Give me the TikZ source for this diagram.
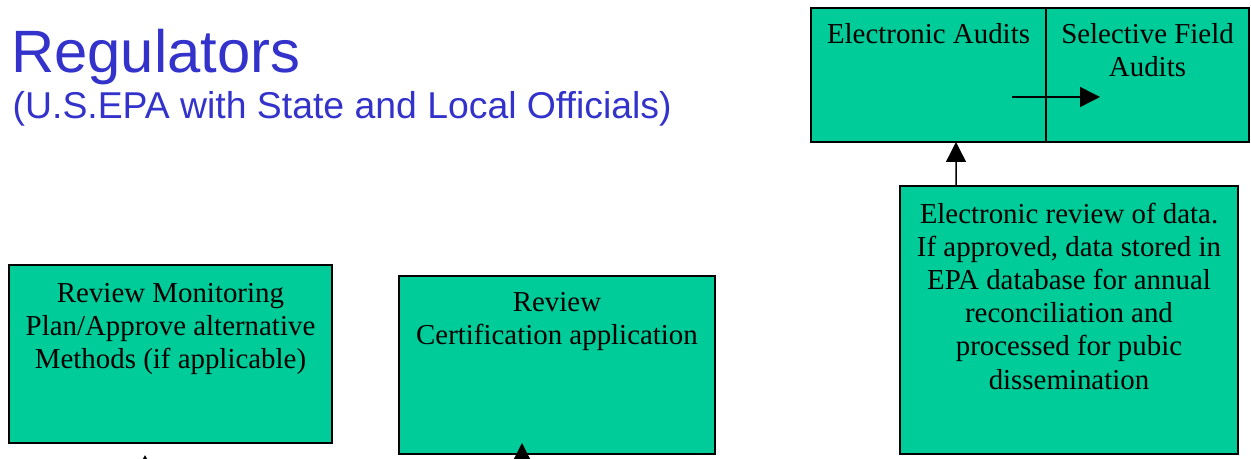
\documentclass[tikz,border=0pt]{standalone}
\usepackage{fontspec}
\setmainfont{Liberation Serif}
\newfontfamily\arialf{Liberation Sans}
\usetikzlibrary{arrows.meta}
\definecolor{boxgreen}{RGB}{0,204,153}
\definecolor{titleblue}{RGB}{51,51,204}
\begin{document}
\begin{tikzpicture}[x=1bp,y=-1bp,
  box/.style={draw=black,line width=1.5bp,fill=boxgreen,inner sep=0pt,outer sep=0pt,anchor=north west},
  boxtext/.style={anchor=north,inner sep=0pt,align=center,font=\fontsize{29}{33.3}\selectfont},
  arr/.style={line width=1.5bp,-{Triangle[length=20bp,width=20bp]}}]
\clip (0,0) rectangle (1251,459);
% title
\node[anchor=base west,inner sep=0pt,text=titleblue,font=\arialf\fontsize{60}{62}\selectfont] (title) at (11,73) {Regulators};
\node[anchor=base west,inner sep=0pt,text=titleblue,font=\arialf\fontsize{37.5}{40}\selectfont] (subtitle) at (12.5,119) {(U.S.EPA with State and Local Officials)};
% boxes
\node[box,minimum width=323bp,minimum height=178bp] (mon) at (9,265) {};
\node[box,minimum width=316bp,minimum height=178bp] (cert) at (399,276) {};
\node[box,minimum width=338bp,minimum height=268bp] (er) at (900,186) {};
\node[box,minimum width=235bp,minimum height=134bp] (ea) at (811,8) {};
\node[box,minimum width=203bp,minimum height=134bp] (sfa) at (1046,8) {};
% texts
\node[boxtext] (montext) at (170.5,278.7) {\strut Review Monitoring\\Plan/Approve alternative\\Methods (if applicable)};
\node[boxtext] (certtext) at (557,287.7) {\strut Review\\Certification application};
\node[boxtext] (ertext) at (1069,199.7) {\strut Electronic review of data.\\If approved, data stored in\\EPA database for annual\\reconciliation and\\processed for pubic\\dissemination};
\node[boxtext] (eatext) at (928.5,19.7) {\strut Electronic Audits};
\node[boxtext] (sfatext) at (1147.5,19.7) {\strut Selective Field\\Audits};
% connectors
\coordinate (inA) at (1012,97);
\coordinate (inB) at (1100,97);
\draw[arr] (inA) -- (inB);
\draw[arr] ([xshift=56bp]er.north west) -- ([xshift=145bp]ea.south west);
\coordinate (monin) at (145,530);
\draw[arr] (monin) -- ([xshift=136bp,yshift=-12bp]mon.south west);
\coordinate (certin) at (522,530);
\draw[arr] (certin) -- ([xshift=123bp,yshift=11bp]cert.south west);
\end{tikzpicture}
\end{document}
